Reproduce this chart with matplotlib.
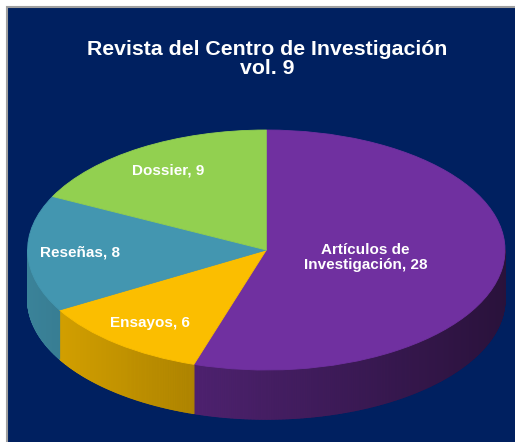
import numpy as np
import matplotlib.pyplot as plt
from matplotlib.patches import Rectangle
from matplotlib.collections import PolyCollection
from matplotlib.colors import to_rgb

plt.rcParams['font.family'] = ['Liberation Sans', 'DejaVu Sans']

# datos
titulo = "Revista del Centro de Investigación\nvol. 9"
categorias = ["Artículos de\nInvestigación", "Ensayos", "Reseñas", "Dossier"]
valores = [28, 6, 8, 9]
colores = ["#7030A0", "#FBBE00", "#4396B0", "#92D050"]

fondo = "#002060"
grosor = 0.41          # altura del "cilindro", en radios verticales
radio_etiqueta = [0.42, 0.78, 0.78, 0.78]

fig = plt.figure(figsize=(5.15, 4.42), dpi=100)
fig.patch.set_facecolor("white")
# panel azul con borde gris
fig.patches.append(Rectangle((7 / 515, -0.01), 1.0, (442 - 7) / 442 + 0.01,
                             transform=fig.transFigure, facecolor=fondo,
                             edgecolor="#a0a0a0", linewidth=1.5, zorder=-10))

ax = fig.add_axes([0, 0, 1, 1])
ax.set_zorder(1)
ax.patch.set_visible(False)

wedges, _ = ax.pie(valores, colors=colores, startangle=90, counterclock=False,
                   radius=1, wedgeprops=dict(linewidth=0.6))
for w in wedges:
    w.set_edgecolor(w.get_facecolor())
    w.set_zorder(2)

# cara lateral (solo la mitad delantera), con sombreado horizontal
polys, caras = [], []
for w, c in zip(wedges, colores):
    a0 = max(w.theta1, -180)
    a1 = min(w.theta2, 0)
    if a1 <= a0:
        continue
    angs = np.radians(np.linspace(a0, a1, int((a1 - a0) * 3) + 2))
    for t0, t1 in zip(angs[:-1], angs[1:]):
        polys.append([(np.cos(t0), np.sin(t0)), (np.cos(t1), np.sin(t1)),
                      (np.cos(t1), np.sin(t1) - grosor), (np.cos(t0), np.sin(t0) - grosor)])
        f = 0.62 - 0.25 * np.cos((t0 + t1) / 2)
        caras.append(tuple(np.array(to_rgb(c)) * f))
ax.add_collection(PolyCollection(polys, facecolors=caras, edgecolors=caras,
                                 linewidths=0.8, zorder=1))

# etiquetas
for w, cat, v, r in zip(wedges, categorias, valores, radio_etiqueta):
    ang = np.radians((w.theta1 + w.theta2) / 2)
    ax.text(r * np.cos(ang), r * np.sin(ang), f"{cat}, {v}", ha="center", va="center",
            color="white", fontsize=11, fontweight="bold", zorder=3, linespacing=1.1)

ax.set_aspect("auto")
ax.set_xlim(-266.3 / 238.7, (515 - 266.3) / 238.7)
ax.set_ylim(-192 / 120, 250 / 120)
ax.axis("off")

fig.text(267 / 515, 1 - 59 / 442, titulo, ha="center", va="center", fontsize=15.3,
         fontweight="bold", color="white", linespacing=1.05, zorder=5)

plt.savefig("out.png", dpi=100, facecolor=fig.get_facecolor())
